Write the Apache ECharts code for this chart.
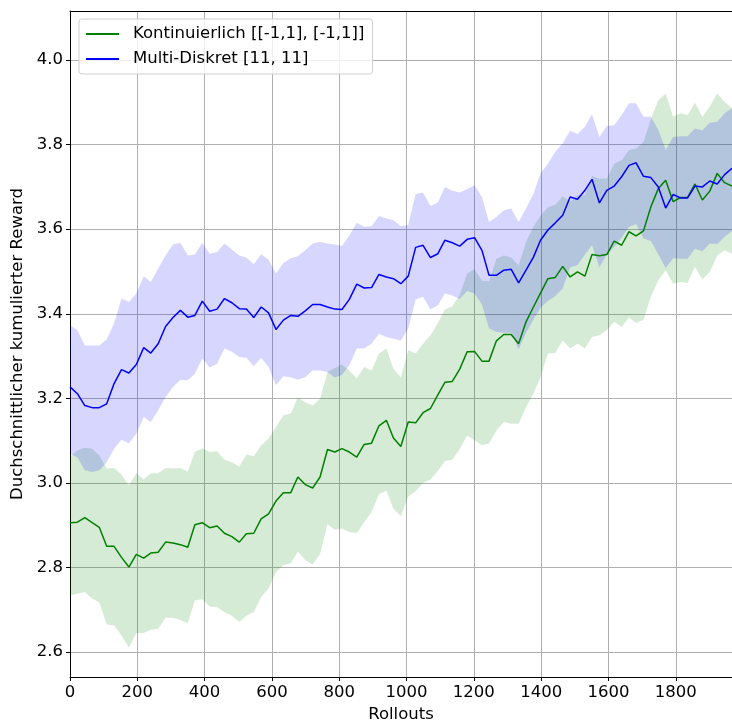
<!DOCTYPE html>
<html>
<head>
<meta charset="utf-8">
<script src="https://cdn.jsdelivr.net/npm/echarts@6/dist/echarts.min.js"></script>
<style>
  html, body { margin: 0; padding: 0; background: #fff; }
  #main { width: 732px; height: 720px; }
</style>
</head>
<body>
<div id="main"></div>
<script>
// Rollouts (x)
var rollouts = [0, 22, 44, 66, 87, 109, 131, 153, 175, 197, 219, 240, 262, 284, 306, 328, 350, 371, 393, 415,
  437, 459, 481, 503, 524, 546, 568, 590, 612, 634, 656, 677, 699, 721, 743, 765, 787, 808, 830, 852,
  874, 896, 918, 940, 961, 983, 1005, 1027, 1049, 1071, 1093, 1114, 1136, 1158, 1180, 1202, 1224, 1245, 1267, 1289,
  1311, 1333, 1355, 1377, 1398, 1420, 1442, 1464, 1486, 1508, 1530, 1551, 1573, 1595, 1617, 1639, 1661, 1682, 1704, 1726,
  1748, 1770, 1792, 1814, 1835, 1857, 1879, 1901, 1923, 1945, 1967];

// Kontinuierlich
var greenMean = [2.906, 2.907, 2.918, 2.906, 2.895, 2.850, 2.850, 2.824, 2.801, 2.831, 2.822, 2.834, 2.836, 2.860, 2.858, 2.854, 2.848, 2.901, 2.906, 2.894,
  2.898, 2.881, 2.873, 2.860, 2.880, 2.881, 2.915, 2.927, 2.957, 2.977, 2.977, 3.014, 2.996, 2.988, 3.014, 3.079, 3.073, 3.081, 3.073, 3.061,
  3.091, 3.094, 3.135, 3.148, 3.106, 3.086, 3.144, 3.142, 3.166, 3.176, 3.208, 3.238, 3.240, 3.269, 3.310, 3.311, 3.288, 3.288, 3.336, 3.351,
  3.351, 3.329, 3.381, 3.416, 3.449, 3.483, 3.486, 3.512, 3.487, 3.499, 3.489, 3.540, 3.537, 3.540, 3.572, 3.562, 3.594, 3.584, 3.596, 3.653,
  3.696, 3.716, 3.665, 3.675, 3.675, 3.707, 3.669, 3.690, 3.732, 3.710, 3.702];
var greenUpper = [3.061, 3.077, 3.083, 3.081, 3.065, 3.034, 3.035, 3.020, 2.994, 3.023, 3.008, 3.023, 3.023, 3.035, 3.034, 3.035, 3.027, 3.073, 3.082, 3.073,
  3.075, 3.055, 3.049, 3.039, 3.067, 3.063, 3.089, 3.105, 3.132, 3.160, 3.164, 3.202, 3.191, 3.183, 3.199, 3.262, 3.272, 3.280, 3.266, 3.247,
  3.274, 3.266, 3.306, 3.318, 3.270, 3.250, 3.314, 3.306, 3.329, 3.349, 3.378, 3.410, 3.418, 3.445, 3.495, 3.505, 3.478, 3.477, 3.530, 3.538,
  3.533, 3.514, 3.570, 3.606, 3.632, 3.652, 3.658, 3.678, 3.665, 3.680, 3.680, 3.726, 3.719, 3.720, 3.755, 3.763, 3.787, 3.791, 3.806, 3.860,
  3.905, 3.921, 3.866, 3.874, 3.870, 3.899, 3.866, 3.890, 3.921, 3.901, 3.886];
var greenLower = [2.734, 2.738, 2.742, 2.726, 2.718, 2.665, 2.663, 2.639, 2.611, 2.645, 2.645, 2.653, 2.655, 2.681, 2.681, 2.676, 2.668, 2.722, 2.725, 2.708,
  2.706, 2.694, 2.686, 2.671, 2.686, 2.694, 2.730, 2.750, 2.789, 2.805, 2.810, 2.837, 2.817, 2.807, 2.832, 2.902, 2.889, 2.892, 2.884, 2.881,
  2.907, 2.931, 2.973, 2.982, 2.939, 2.922, 2.968, 2.980, 3.000, 3.008, 3.028, 3.052, 3.055, 3.080, 3.112, 3.101, 3.089, 3.093, 3.124, 3.144,
  3.140, 3.140, 3.179, 3.211, 3.250, 3.306, 3.307, 3.337, 3.318, 3.329, 3.318, 3.345, 3.349, 3.361, 3.381, 3.369, 3.391, 3.378, 3.386, 3.440,
  3.479, 3.503, 3.471, 3.475, 3.473, 3.511, 3.481, 3.499, 3.538, 3.550, 3.542];

// Multi-Diskret
var blueMean = [3.227, 3.211, 3.183, 3.178, 3.178, 3.187, 3.235, 3.268, 3.260, 3.280, 3.320, 3.307, 3.329, 3.370, 3.391, 3.408, 3.392, 3.396, 3.430, 3.406,
  3.411, 3.436, 3.426, 3.412, 3.411, 3.391, 3.416, 3.402, 3.363, 3.385, 3.396, 3.394, 3.407, 3.422, 3.422, 3.416, 3.411, 3.410, 3.434, 3.470,
  3.461, 3.462, 3.493, 3.487, 3.483, 3.471, 3.489, 3.557, 3.562, 3.533, 3.542, 3.574, 3.568, 3.560, 3.576, 3.580, 3.550, 3.491, 3.491, 3.503,
  3.505, 3.473, 3.503, 3.534, 3.574, 3.598, 3.615, 3.633, 3.676, 3.671, 3.692, 3.718, 3.662, 3.692, 3.702, 3.724, 3.751, 3.757, 3.725, 3.722,
  3.700, 3.650, 3.682, 3.674, 3.674, 3.702, 3.700, 3.714, 3.707, 3.729, 3.744];
var blueUpper = [3.373, 3.361, 3.325, 3.325, 3.325, 3.339, 3.377, 3.436, 3.428, 3.448, 3.489, 3.475, 3.507, 3.538, 3.564, 3.568, 3.538, 3.540, 3.568, 3.542,
  3.546, 3.566, 3.552, 3.538, 3.533, 3.517, 3.541, 3.528, 3.495, 3.520, 3.531, 3.536, 3.550, 3.566, 3.570, 3.566, 3.564, 3.560, 3.585, 3.615,
  3.606, 3.607, 3.631, 3.625, 3.621, 3.607, 3.610, 3.683, 3.687, 3.655, 3.663, 3.700, 3.691, 3.687, 3.695, 3.704, 3.676, 3.617, 3.629, 3.645,
  3.649, 3.617, 3.649, 3.684, 3.732, 3.755, 3.783, 3.803, 3.833, 3.825, 3.842, 3.872, 3.818, 3.844, 3.846, 3.870, 3.898, 3.898, 3.866, 3.866,
  3.835, 3.787, 3.818, 3.820, 3.820, 3.838, 3.834, 3.852, 3.854, 3.874, 3.886];
var blueLower = [3.069, 3.060, 3.030, 3.026, 3.030, 3.049, 3.081, 3.102, 3.094, 3.116, 3.156, 3.144, 3.172, 3.203, 3.227, 3.244, 3.243, 3.258, 3.294, 3.273,
  3.282, 3.318, 3.310, 3.298, 3.296, 3.276, 3.296, 3.274, 3.231, 3.252, 3.250, 3.244, 3.250, 3.266, 3.266, 3.262, 3.249, 3.255, 3.278, 3.318,
  3.318, 3.329, 3.353, 3.345, 3.341, 3.337, 3.365, 3.434, 3.440, 3.410, 3.420, 3.448, 3.443, 3.435, 3.454, 3.448, 3.422, 3.366, 3.357, 3.355,
  3.355, 3.316, 3.355, 3.386, 3.414, 3.430, 3.442, 3.460, 3.510, 3.515, 3.540, 3.562, 3.510, 3.540, 3.558, 3.580, 3.605, 3.612, 3.578, 3.572,
  3.540, 3.508, 3.531, 3.530, 3.530, 3.554, 3.548, 3.566, 3.565, 3.582, 3.595];

var xTicks = [0, 200, 400, 600, 800, 1000, 1200, 1400, 1600, 1800];
var yTicks = [2.6, 2.8, 3.0, 3.2, 3.4, 3.6, 3.8, 4.0];

var FONT = 'DejaVu Sans';

function pairs(ys) {
  return rollouts.map(function (x, i) { return [x, ys[i]]; });
}

function bandData(lo, hi) {
  return rollouts.map(function (x, i) { return [x, lo[i], hi[i]]; });
}

// Band als ein Polygon (obere Kante hin, untere zurück)
function bandRender(lo, hi, fill) {
  return function (params, api) {
    if (params.dataIndex !== 0) return;
    var pts = [];
    for (var i = 0; i < rollouts.length; i++) pts.push(api.coord([rollouts[i], hi[i]]));
    for (var j = rollouts.length - 1; j >= 0; j--) pts.push(api.coord([rollouts[j], lo[j]]));
    return { type: 'polygon', shape: { points: pts }, style: { fill: fill } };
  };
}

var chart = echarts.init(document.getElementById('main'));
var option = {
  animation: false,
  backgroundColor: '#fff',
  grid: { left: 70, right: 0, top: 11, bottom: 43, outerBoundsMode: 'none' },
  legend: {
    data: [
      { name: 'Kontinuierlich [[-1,1], [-1,1]]', icon: 'rect' },
      { name: 'Multi-Diskret [11, 11]', icon: 'rect' }
    ],
    orient: 'vertical',
    left: 79,
    top: 19,
    itemWidth: 33,
    itemHeight: 2,
    itemGap: 7,
    padding: [6, 8, 6, 7],
    backgroundColor: 'rgba(255,255,255,0.8)',
    borderColor: '#d0d0d0',
    borderWidth: 1,
    borderRadius: 3,
    textStyle: { fontFamily: FONT, fontSize: 16.5, color: '#000', lineHeight: 18, padding: [0, 0, 0, 9] }
  },
  xAxis: [{
    type: 'value',
    min: 0,
    max: 1967,
    name: 'Rollouts',
    nameLocation: 'middle',
    nameGap: 27,
    nameTextStyle: { fontFamily: FONT, fontSize: 16.5, color: '#000' },
    axisLine: { show: true, lineStyle: { color: '#000', width: 1 } },
    axisTick: { show: true, length: 4, customValues: xTicks, lineStyle: { color: '#000' } },
    axisLabel: {
      customValues: xTicks,
      fontFamily: FONT, fontSize: 16.5, color: '#000', margin: 7,
      formatter: function (v) { return String(v); }
    },
    splitLine: { show: true, lineStyle: { color: '#b0b0b0', width: 1 } }
  }, {
    type: 'value',
    position: 'top',
    min: 0,
    max: 1967,
    axisLine: { show: true, onZero: false, lineStyle: { color: '#000', width: 1 } },
    axisTick: { show: false },
    axisLabel: { show: false },
    splitLine: { show: false }
  }],
  yAxis: {
    type: 'value',
    min: 2.541,
    max: 4.116,
    name: 'Duchschnittlicher kumulierter Reward',
    nameLocation: 'middle',
    nameRotate: 90,
    nameGap: 38,
    nameTextStyle: { fontFamily: FONT, fontSize: 16.5, color: '#000' },
    axisLine: { show: true, lineStyle: { color: '#000', width: 1 } },
    axisTick: { show: true, length: 4, customValues: yTicks, lineStyle: { color: '#000' } },
    axisLabel: {
      customValues: yTicks,
      fontFamily: FONT, fontSize: 16.5, color: '#000', margin: 7,
      formatter: function (v) { return v.toFixed(1); }
    },
    splitLine: { show: true, lineStyle: { color: '#b0b0b0', width: 1 } }
  },
  series: [
    {
      type: 'custom',
      name: 'band-k',
      clip: true,
      data: bandData(greenLower, greenUpper),
      encode: { x: 0, y: [1, 2] },
      renderItem: bandRender(greenLower, greenUpper, 'rgba(0,128,0,0.16)'),
      silent: true,
      z: 1
    },
    {
      type: 'custom',
      name: 'band-m',
      clip: true,
      data: bandData(blueLower, blueUpper),
      encode: { x: 0, y: [1, 2] },
      renderItem: bandRender(blueLower, blueUpper, 'rgba(0,0,255,0.16)'),
      silent: true,
      z: 2
    },
    {
      type: 'line',
      name: 'Kontinuierlich [[-1,1], [-1,1]]',
      data: pairs(greenMean),
      color: '#008000',
      showSymbol: false,
      symbol: 'none',
      lineStyle: { color: '#008000', width: 1.5 },
      z: 3
    },
    {
      type: 'line',
      name: 'Multi-Diskret [11, 11]',
      data: pairs(blueMean),
      color: '#0000ff',
      showSymbol: false,
      symbol: 'none',
      lineStyle: { color: '#0000ff', width: 1.5 },
      z: 4
    }
  ]
};
chart.setOption(option);
</script>
</body>
</html>
